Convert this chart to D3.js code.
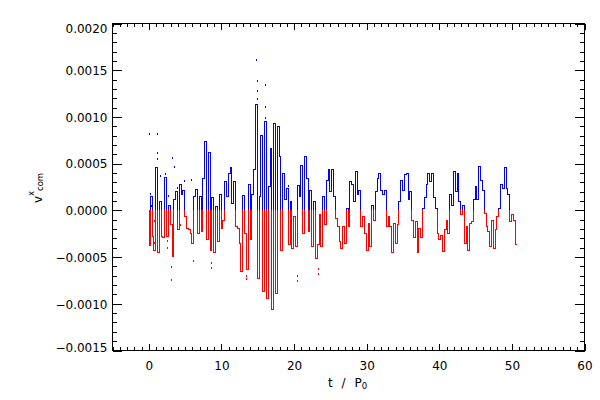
<!DOCTYPE html>
<html><head><meta charset="utf-8">
<script src="https://cdn.jsdelivr.net/npm/d3@7/dist/d3.min.js"></script>
<style>body{margin:0;background:#fff}svg{display:block}text{font-family:"DejaVu Sans",sans-serif;fill:#000}</style>
</head><body>
<svg id="chart" width="600" height="400"></svg>
<script>
// sampling of the time axis (t / P0)
const tStart = 0;
const tStep = 0.25;
// v^x_com, in units of 1e-4, one value per sample
const vxE4 = [
 -3.7, 1.5,-2.7,-4.2, 4.6,-4.5, 1.0,-2.7,-2.9, 3.6,
 -2.7, 0.6,-1.5,-4.9, 1.2, 2.1,-2.0, 2.8, 1.7, 2.2,
 -0.6,-1.9,-2.0,-2.4,-3.5, 1.5, 2.3,-2.4, 1.5,-2.2,
  3.5, 7.4,-3.1, 6.2,-4.2, 1.4,-4.5, 0.5,-3.3, 1.7,
 -1.9,-1.0, 3.1, 1.5, 4.0, 4.6, 0.8, 3.1,-1.7,-1.9,
 -3.5,-6.5, 1.6,-2.4,-6.3, 2.8,-3.1, 1.7, 4.4,11.4,
 -7.2, 1.5, 8.1,-8.6, 9.6,-9.4, 2.6, 6.7,-10.6,9.4,
 -8.8, 9.0, 5.8,-4.2, 4.0, 1.2, 2.4,-3.6, 1.0,-4.0,
 -0.6,-3.8, 2.7, 1.5, 4.9,-2.4, 5.8, 3.5,-2.2, 2.2,
 -3.8, 1.0,-5.1,-3.6,-0.4,-3.8, 1.5,-1.5, 3.3, 4.4,
  2.1, 4.4, 1.5,-0.8,-1.7,-3.3,-4.0,-1.7,-3.5, 0.3,
 -1.7, 3.1, 2.8, 1.0, 4.2, 1.7, 2.2,-1.7,-0.6,-2.4,
 -4.2,-1.3,-3.8, 0.6,-1.0, 2.1, 3.5, 4.0, 2.2, 1.7,
  2.2,-1.7,-0.6,-1.7,-4.5,-1.3,-3.5,-1.5, 1.0, 3.3,
  2.2, 3.9, 4.0, 1.2, 2.1,-1.0,-2.8,-1.1,-4.5,-1.9,
 -2.9, 0.3, 1.4, 2.8, 4.0, 3.1, 4.0, 1.4, 0.3,-2.4,
 -3.1,-2.6,-4.4,-2.0,-1.0,-2.4, 1.7, 0.6, 4.2, 2.1,
  4.0, 1.0,-0.4, 0.6,-3.5,-1.7,-4.2,-1.3,-1.1, 1.2,
  2.6, 1.2, 4.8, 3.3, 2.2,-0.3,-1.7,-2.2,-3.8,-1.0,
 -4.0,-2.0,-0.6, 0.3, 2.8, 2.4, 4.6, 2.4, 1.7,-1.1,
 -0.4,-1.0,-3.6
];
// isolated scattered points: time, value (units of 1e-4)
const dotT = [0.05,0.1,0.2,0.3,1.06,1.06,1.06,1.06,1.6,2.26,2.67,3.25,3.5,3.9,4.8,5.85,
              0.7,0.7,2.5,2.5,3.12,3.12,4.3,6.1,8.6,8.6,13.4,13.45,
              14.83,14.95,14.85,14.85,16.0,16.05,16.05,19.15,20.4,20.4,23.3,23.3];
const dotV = [8.25,1.9,1.2,0.6,8.25,6.2,5.6,4.6,3.8,4.0,1.65,5.7,4.75,2.5,3.3,3.4,
              -1.0,-3.4,-3.2,-3.9,-7.3,-6.0,-1.5,-5.3,-5.5,-6.1,-6.9,-7.2,
              16.2,13.9,12.9,12.0,13.5,11.2,10.0,2.7,-7.5,-6.9,-6.7,-6.2];
const xMajorTicks = [0,10,20,30,40,50,60];
const yMajorTicks = [-0.0015,-0.0010,-0.0005,0.0000,0.0005,0.0010,0.0015,0.0020];
const yTickLabels = ["\u22120.0015","\u22120.0010","\u22120.0005","0.0000","0.0005","0.0010","0.0015","0.0020"];
const xTickLabels = ["0","10","20","30","40","50","60"];
const POS = "#0000ff", NEG = "#ff0000";

const svg = d3.select("#chart");
const L = 112.5, R = 584.5, T = 23.5, B = 350.5;
const x = d3.scaleLinear().domain([-5, 60]).range([L, R]);
const y = d3.scaleLinear().domain([-0.0015, 0.0020]).range([B, T]);

const series = vxE4.map((v, i) => ({t: tStart + i * tStep, v: v * 1e-4}));
const dots = dotT.map((t, i) => ({t, v: dotV[i] * 1e-4}));

// histogram-style step line, split into segments: blue above zero, red below zero
const y0 = Math.round(y(0));
const sy = v => Math.round(y(v));
const sx = t => Math.round(x(t));
const n = series.length;
const segs = [];
series.forEach((d, i) => {
  const xa = i === 0 ? sx(d.t) : sx((series[i - 1].t + d.t) / 2);
  const xb = i === n - 1 ? sx(d.t) : sx((d.t + series[i + 1].t) / 2);
  const yy = sy(d.v);
  segs.push({x1: xa, y1: yy, x2: xb + 1, y2: yy, c: d.v >= 0 ? POS : NEG});
  if (i === 0) {
    segs.push({x1: xa, y1: Math.min(yy, y0), x2: xa, y2: Math.max(yy, y0) + 1, c: d.v >= 0 ? POS : NEG});
  }
  if (i < n - 1) {
    const yn = sy(series[i + 1].v);
    const ya = Math.min(yy, yn), yb = Math.max(yy, yn);
    if (ya < y0) segs.push({x1: xb, y1: ya, x2: xb, y2: Math.min(yb, y0), c: POS});
    if (yb >= y0) segs.push({x1: xb, y1: Math.max(ya, y0), x2: xb, y2: yb + 1, c: NEG});
  }
});

// draw each segment as a 1px filled rectangle (pixel exact)
svg.append("g").selectAll("rect").data(segs).join("rect")
  .attr("x", d => d.x1).attr("y", d => d.y1)
  .attr("width", d => Math.max(1, d.x2 - d.x1))
  .attr("height", d => Math.max(1, d.y2 - d.y1))
  .attr("fill", d => d.c).attr("shape-rendering", "crispEdges");

svg.append("g").selectAll("rect").data(dots).join("rect")
  .attr("x", d => sx(d.t)).attr("y", d => sy(d.v))
  .attr("width", 1).attr("height", 2)
  .attr("fill", d => d.v > 0 ? POS : NEG).attr("shape-rendering", "crispEdges");

// frame
svg.append("rect").attr("x", L).attr("y", T).attr("width", R - L).attr("height", B - T)
  .attr("fill", "none").attr("stroke", "#000").attr("stroke-width", 1).attr("shape-rendering", "crispEdges");

const xMinor = d3.range(-5, 61, 1).filter(v => v % 10 !== 0);
const yMinor = d3.range(-15, 21, 1).filter(k => k % 5 !== 0).map(k => k * 1e-4);
const xLen = 6.5, yLen = 9.4;

function styleAxis(g) {
  g.select(".domain").remove();
  g.selectAll("line").attr("stroke", "#000").attr("shape-rendering", "crispEdges");
  g.selectAll("text").attr("font-family", "DejaVu Sans, sans-serif").attr("font-size", 12).attr("fill", "#000");
}

// bottom
svg.append("g").attr("transform", `translate(0,${B})`)
  .call(d3.axisBottom(x).tickValues(xMajorTicks).tickSizeInner(-xLen).tickSizeOuter(0).tickPadding(11)
    .tickFormat((d, i) => xTickLabels[i])).call(styleAxis);
svg.append("g").attr("transform", `translate(0,${B})`)
  .call(d3.axisBottom(x).tickValues(xMinor).tickSizeInner(-xLen / 2).tickSizeOuter(0).tickFormat("")).call(styleAxis);
// top
svg.append("g").attr("transform", `translate(0,${T})`)
  .call(d3.axisTop(x).tickValues(xMajorTicks).tickSizeInner(-xLen).tickSizeOuter(0).tickFormat("")).call(styleAxis);
svg.append("g").attr("transform", `translate(0,${T})`)
  .call(d3.axisTop(x).tickValues(xMinor).tickSizeInner(-xLen / 2).tickSizeOuter(0).tickFormat("")).call(styleAxis);
// left
const gl = svg.append("g").attr("transform", `translate(${L},0)`)
  .call(d3.axisLeft(y).tickValues(yMajorTicks).tickSizeInner(-yLen).tickSizeOuter(0).tickPadding(5)
    .tickFormat((d, i) => yTickLabels[i])).call(styleAxis);
gl.selectAll(".tick").each(function(d) {
  const ty = y(d);
  const base = Math.max(T + 8.8, Math.min(B + 1.2, ty + 4.3));
  d3.select(this).select("text").attr("dy", null).attr("y", base - ty);
});
svg.append("g").attr("transform", `translate(${L},0)`)
  .call(d3.axisLeft(y).tickValues(yMinor).tickSizeInner(-yLen / 2).tickSizeOuter(0).tickFormat("")).call(styleAxis);
// right
svg.append("g").attr("transform", `translate(${R},0)`)
  .call(d3.axisRight(y).tickValues(yMajorTicks).tickSizeInner(-yLen).tickSizeOuter(0).tickFormat("")).call(styleAxis);
svg.append("g").attr("transform", `translate(${R},0)`)
  .call(d3.axisRight(y).tickValues(yMinor).tickSizeInner(-yLen / 2).tickSizeOuter(0).tickFormat("")).call(styleAxis);

// x title
const xt = svg.append("text").attr("x", 328).attr("y", 387).attr("font-size", 12)
  .attr("word-spacing", 5).attr("xml:space", "preserve");
xt.append("tspan").text("t / P");
xt.append("tspan").attr("dy", 2).attr("font-size", 8.5).text("0");

// y title
const yt = svg.append("text").attr("transform", "translate(42,203) rotate(-90)").attr("font-size", 12);
yt.append("tspan").text("v");
yt.append("tspan").attr("dy", -8).attr("font-size", 8.5).text("x");
yt.append("tspan").attr("dy", 9).attr("font-size", 8.5).text("com");
</script>
</body></html>
